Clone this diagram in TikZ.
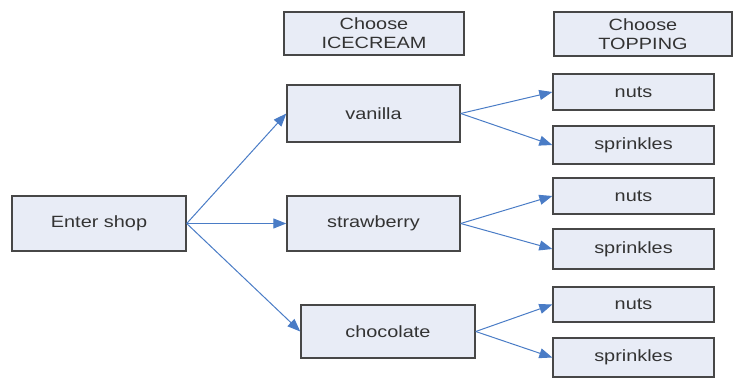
\documentclass[tikz,border=0pt]{standalone}
\usepackage{fontspec}
\usetikzlibrary{arrows.meta}
\newfontfamily\lfont[FakeStretch=1.22]{Liberation Sans}
\definecolor{boxfill}{HTML}{E8ECF6}
\definecolor{boxline}{HTML}{474747}
\definecolor{arrowc}{HTML}{4A7CC6}
\definecolor{txt}{HTML}{333333}
\tikzset{
  box/.style={draw=boxline, line width=1.4pt, fill=boxfill, inner sep=0pt,
    font=\lfont\fontsize{16.3}{19}\selectfont, text=txt, align=center},
  conn/.style={draw=arrowc, line width=1pt, -{Triangle[length=13pt,width=10pt]}}
}
\begin{document}
\begin{tikzpicture}[x=1pt,y=-1pt]
\useasboundingbox (0,0) rectangle (733,379);
% headers
\node[box, minimum width=180pt, minimum height=43pt] (h1) at (374,33.5) {Choose\\ICECREAM};
\node[box, minimum width=178pt, minimum height=44pt] (h2) at (643,34) {Choose\\TOPPING};
% start
\node[box, minimum width=174pt, minimum height=55pt] (shop) at (99,223.5) {Enter shop};
% icecreams
\node[box, minimum width=173pt, minimum height=57pt] (van) at (373.5,113.5) {vanilla};
\node[box, minimum width=173pt, minimum height=55pt] (str) at (373.5,223.5) {strawberry};
\node[box, minimum width=174pt, minimum height=53pt] (cho) at (388,331.5) {chocolate};
% toppings
\node[box, minimum width=161pt, minimum height=36pt] (n1) at (633.5,92) {nuts};
\node[box, minimum width=161pt, minimum height=38pt] (s1) at (633.5,145) {sprinkles};
\node[box, minimum width=161pt, minimum height=36pt] (n2) at (633.5,196) {nuts};
\node[box, minimum width=161pt, minimum height=40pt] (s2) at (633.5,249) {sprinkles};
\node[box, minimum width=161pt, minimum height=35pt] (n3) at (633.5,304.5) {nuts};
\node[box, minimum width=161pt, minimum height=39pt] (s3) at (633.5,357.5) {sprinkles};
% connectors
\draw[conn] (shop.east) -- (van.west);
\draw[conn] (shop.east) -- (str.west);
\draw[conn] (shop.east) -- (cho.west);
\draw[conn] (van.east) -- (n1.west);
\draw[conn] (van.east) -- (s1.west);
\draw[conn] (str.east) -- (n2.west);
\draw[conn] (str.east) -- (s2.west);
\draw[conn] (cho.east) -- (n3.west);
\draw[conn] (cho.east) -- (s3.west);
\end{tikzpicture}
\end{document}
